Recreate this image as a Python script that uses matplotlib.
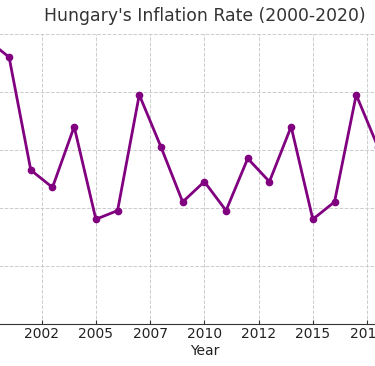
import matplotlib
matplotlib.use("Agg")
import matplotlib.pyplot as plt

years = list(range(2000, 2021))
inflation = [9.8, 9.2, 5.3, 4.7, 6.8, 3.6, 3.9, 7.9, 6.1, 4.2, 4.9,
             3.9, 5.7, 4.9, 6.8, 3.6, 4.2, 7.9, 6.1, 3.4, 3.3]
tick_positions = [2002.5, 2005, 2007.5, 2010, 2012.5, 2015, 2017.5, 2020]
tick_labels = [str(int(t)) for t in tick_positions]

fig = plt.figure(figsize=(3.75, 3.66), dpi=100)
W, H = 375, 366
left_px, right_px = -34.3, 443.0
top_px, bottom_px = 34.0, 323.5
ax = fig.add_axes([left_px / W, (H - bottom_px) / H,
                   (right_px - left_px) / W, (bottom_px - top_px) / H])

ax.plot(years, inflation, color="#800080", linewidth=2.0, marker="o", markersize=4.5)
ax.set_xlim(1999, 2021)
ax.set_ylim(0, 10)
ax.set_xticks(tick_positions)
ax.set_xticklabels(tick_labels, fontsize=10, color="#222222")
ax.tick_params(axis="y", labelleft=False, left=False)
ax.tick_params(axis="x", direction="in", length=3, pad=2.5, color="#333333")
ax.grid(True, linestyle="--", color="#cccccc", linewidth=0.7)
ax.set_axisbelow(True)
for s in ["top", "right", "left"]:
    ax.spines[s].set_visible(False)
ax.spines["bottom"].set_color("#333333")
ax.set_xlabel("Year", fontsize=10, color="#222222", labelpad=2)
ax.set_title("Hungary's Inflation Rate (2000-2020)", fontsize=12.4, color="#333333", pad=9.5)

fig.savefig("out.png", dpi=100)
